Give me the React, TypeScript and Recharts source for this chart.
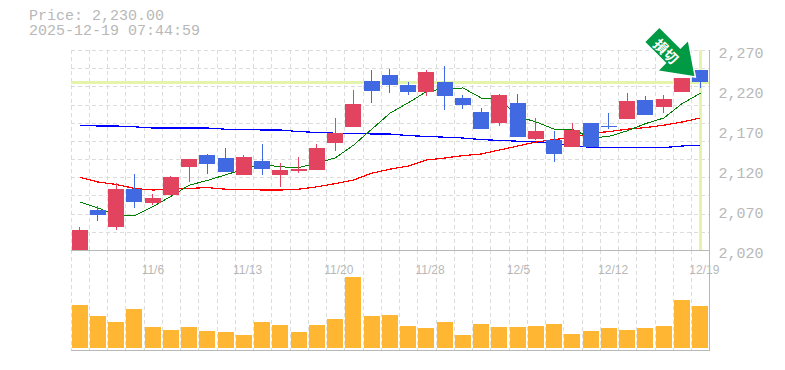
import { ComposedChart, BarChart, Bar, Line, XAxis, YAxis, CartesianGrid, ReferenceLine, ReferenceDot } from 'recharts';

const dates = [
  '10/30', '10/31', '11/4', '11/5', '11/6', '11/7', '11/10', '11/11', '11/12', '11/13',
  '11/14', '11/17', '11/18', '11/19', '11/20', '11/21', '11/25', '11/26', '11/27', '11/28',
  '12/1', '12/2', '12/3', '12/4', '12/5', '12/8', '12/9', '12/10', '12/11', '12/12',
  '12/15', '12/16', '12/17', '12/18', '12/19',
];
const dateTicks = ['11/6', '11/13', '11/20', '11/28', '12/5', '12/12', '12/19'];
const priceTicks = [2020, 2070, 2120, 2170, 2220, 2270];

const opens = [
  2020, 2070, 2049, 2096, 2079, 2089, 2124, 2139, 2135, 2114,
  2131, 2114, 2119, 2120, 2154, 2174, 2231, 2239, 2226, 2217.5,
  2230, 2210, 2192.5, 2179, 2204, 2159, 2157.5, 2149, 2179, 2175.5,
  2184, 2207.5, 2199, 2217.5, 2245,
];
const closes = [
  2045, 2064, 2096, 2080, 2085, 2111, 2134, 2128, 2117.5, 2136,
  2121, 2120, 2121, 2147.5, 2166, 2202.5, 2219, 2226, 2217.5, 2242.5,
  2212.5, 2201, 2171, 2214, 2161, 2169, 2140, 2170, 2149, 2174.5,
  2206, 2189, 2209, 2235, 2230,
];
const highs = [
  2049, 2075, 2104, 2115, 2090, 2112, 2134, 2140, 2147, 2139,
  2152, 2129, 2136, 2152, 2185, 2220, 2245, 2246, 2230, 2245,
  2250, 2214, 2197.5, 2215, 2215, 2185, 2169, 2179, 2179, 2191,
  2216, 2212.5, 2214, 2235, 2245,
];
const lows = [
  2020, 2056, 2045, 2072, 2076, 2089, 2105, 2115, 2117, 2114,
  2114, 2099, 2116, 2120, 2144, 2174, 2204, 2216, 2214, 2212.5,
  2195, 2196, 2171, 2175, 2161, 2157.5, 2130, 2149, 2149, 2171,
  2184, 2189, 2191, 2217.5, 2222.5,
];
const maShort = [
  2080, 2072.5, 2064, 2062.5, 2074, 2087, 2101, 2107, 2114, 2121,
  2127, 2124, 2123, 2129, 2135, 2151, 2171, 2191, 2204, 2218,
  2222, 2222.5, 2210, 2209, 2187, 2180, 2171, 2171, 2160, 2162,
  2169, 2178, 2185, 2203, 2216,
];
const maMid = [
  2111, 2105, 2102, 2097, 2095, 2096, 2097, 2098, 2096, 2096,
  2095, 2095, 2096, 2099, 2103, 2107.5, 2116, 2121, 2125, 2132.5,
  2135, 2138, 2140, 2145, 2150, 2155, 2158, 2161, 2166, 2168,
  2171, 2173, 2176, 2180, 2185,
];
const maLong = [
  2176, 2175, 2175, 2174, 2172.5, 2172.5, 2172.5, 2172.5, 2171, 2171,
  2170, 2170, 2168, 2167, 2166, 2166, 2165, 2165, 2163, 2162,
  2161, 2160, 2158, 2157, 2156, 2155, 2153, 2151, 2148, 2148,
  2148, 2148, 2148, 2150, 2151,
];
const volumes = [
  4300, 3200, 2600, 3900, 2100, 1800, 2100, 1700, 1600, 1300,
  2600, 2300, 1600, 2300, 2900, 7100, 3200, 3300, 2200, 2000,
  2600, 1300, 2400, 2100, 2100, 2200, 2400, 1400, 1700, 2000,
  1800, 2000, 2200, 4800, 4200,
];

const lastPrice = 2230;
const lastDate = dates[dates.length - 1];

const candles = dates.map((date, i) => ({
  date,
  open: opens[i],
  close: closes[i],
  high: highs[i],
  low: lows[i],
  maShort: maShort[i],
  maMid: maMid[i],
  maLong: maLong[i],
  volume: volumes[i],
}));

const LEFT = 70.5;
const PLOT_W = 639;
const GREY = '#b8b8b8';
const GRID = '#dcdcdc';
const HILITE = '#e4f4ab';
const UP = '#e2435f';
const DOWN = '#4169e1';

const verticalGrid = () => dates.map((_, i) => Math.round(LEFT + (i * PLOT_W) / dates.length));
const horizontalGrid = () => Array.from({ length: 11 }, (_, i) => Math.round(50 + (i * 200) / 11));

const Candle = ({ x, y, width, height, payload }: any) => {
  const { open, close, high, low } = payload;
  const k = height / (high - low || 1);
  const color = close >= open ? UP : DOWN;
  const bodyTop = y + (high - Math.max(open, close)) * k;
  const bodyH = Math.max(Math.abs(close - open) * k, 1);
  return (
    <g shapeRendering="crispEdges">
      <rect x={x + width / 2 - 0.5} y={y} width={1} height={height} fill={color} />
      <rect x={x} y={bodyTop} width={width} height={bodyH} fill={color} />
    </g>
  );
};

const PriceTick = ({ x, y, payload }: any) => (
  <text x={x + 1} y={y + 8} fill={GREY} fontFamily="'Liberation Mono'" fontSize={15}>
    {payload.value.toLocaleString('en-US')}
  </text>
);

const DateTick = ({ x, y, payload }: any) => (
  <text x={x - 11} y={y + 16} fill={GREY} fontFamily="'Liberation Sans'" fontSize={12}>
    {payload.value}
  </text>
);

// signal marker, its tip sits just up and left of the last candle
const SignalArrow = ({ cx, cy }: any) => (
  <g transform={`translate(${cx} ${cy})`}>
    <polygon
      points="-41,-55 -20,-34 -12,-42 -5,-5 -43,-11 -35,-19 -56,-40"
      fill="#009944"
      stroke="#ffffff"
      strokeWidth={1.5}
    />
    <text
      transform="translate(-34 -31) rotate(45)"
      textAnchor="middle"
      dominantBaseline="central"
      fill="#ffffff"
      fontFamily="'Noto Sans CJK JP'"
      fontWeight={700}
      fontSize={14}
    >
      損切
    </text>
  </g>
);

export default function App() {
  return (
    <div style={{ position: 'absolute', left: 0, top: 0, width: 785, height: 370, background: '#fff' }}>
      <div
        style={{
          position: 'absolute',
          left: 29,
          top: 9,
          fontFamily: "'Liberation Mono'",
          fontSize: 15,
          lineHeight: '15px',
          color: GREY,
          whiteSpace: 'pre',
        }}
      >
        {'Price: 2,230.00\n2025-12-19 07:44:59'}
      </div>

      <div style={{ position: 'absolute', left: 0, top: 0 }}>
        <BarChart width={785} height={370} data={candles} margin={{ top: 250, right: 0, bottom: 0, left: LEFT }}>
          <CartesianGrid
            stroke={GRID}
            strokeDasharray="4 3"
            horizontal={false}
            verticalCoordinatesGenerator={verticalGrid}
            shapeRendering="crispEdges"
          />
          <XAxis dataKey="date" height={20} tick={false} tickLine={false} axisLine={{ stroke: GREY, shapeRendering: 'crispEdges' }} />
          <YAxis
            orientation="right"
            width={75.5}
            domain={[-200, 9800]}
            tick={false}
            tickLine={false}
            axisLine={{ stroke: GREY, shapeRendering: 'crispEdges' }}
          />
          <Bar dataKey="volume" fill="#ffb733" barSize={16} isAnimationActive={false} shapeRendering="crispEdges" />
        </BarChart>
      </div>

      <div style={{ position: 'absolute', left: 0, top: 0 }}>
        <ComposedChart width={785} height={280} data={candles} margin={{ top: 50, right: 0, bottom: 0, left: LEFT }}>
          <CartesianGrid
            stroke={GRID}
            strokeDasharray="4 3"
            verticalCoordinatesGenerator={verticalGrid}
            horizontalCoordinatesGenerator={horizontalGrid}
            shapeRendering="crispEdges"
          />
          <XAxis
            dataKey="date"
            height={30}
            ticks={dateTicks}
            interval={0}
            tick={<DateTick />}
            tickLine={false}
            axisLine={{ stroke: GREY, shapeRendering: 'crispEdges' }}
          />
          <YAxis
            orientation="right"
            width={75.5}
            domain={[2020, 2270]}
            ticks={priceTicks}
            interval={0}
            tick={<PriceTick />}
            tickLine={false}
            axisLine={{ stroke: GREY, shapeRendering: 'crispEdges' }}
          />
          <ReferenceLine y={lastPrice} stroke={HILITE} strokeWidth={3} shapeRendering="crispEdges" zIndex={10} />
          <ReferenceLine x={lastDate} stroke={HILITE} strokeWidth={3} shapeRendering="crispEdges" zIndex={10} />
          <Line dataKey="maLong" stroke="#0000ff" strokeWidth={1.2} dot={false} activeDot={false} isAnimationActive={false} shapeRendering="crispEdges" zIndex={20} />
          <Line dataKey="maMid" stroke="#ff0000" strokeWidth={1.2} dot={false} activeDot={false} isAnimationActive={false} shapeRendering="crispEdges" zIndex={20} />
          <Line dataKey="maShort" stroke="#008000" strokeWidth={1} dot={false} activeDot={false} isAnimationActive={false} shapeRendering="crispEdges" zIndex={20} />
          <Bar dataKey={(d: any) => [d.low, d.high]} barSize={16} shape={<Candle />} isAnimationActive={false} zIndex={30} />
          <ReferenceDot x={lastDate} y={lastPrice} r={0} shape={<SignalArrow />} zIndex={40} />
        </ComposedChart>
      </div>
    </div>
  );
}
